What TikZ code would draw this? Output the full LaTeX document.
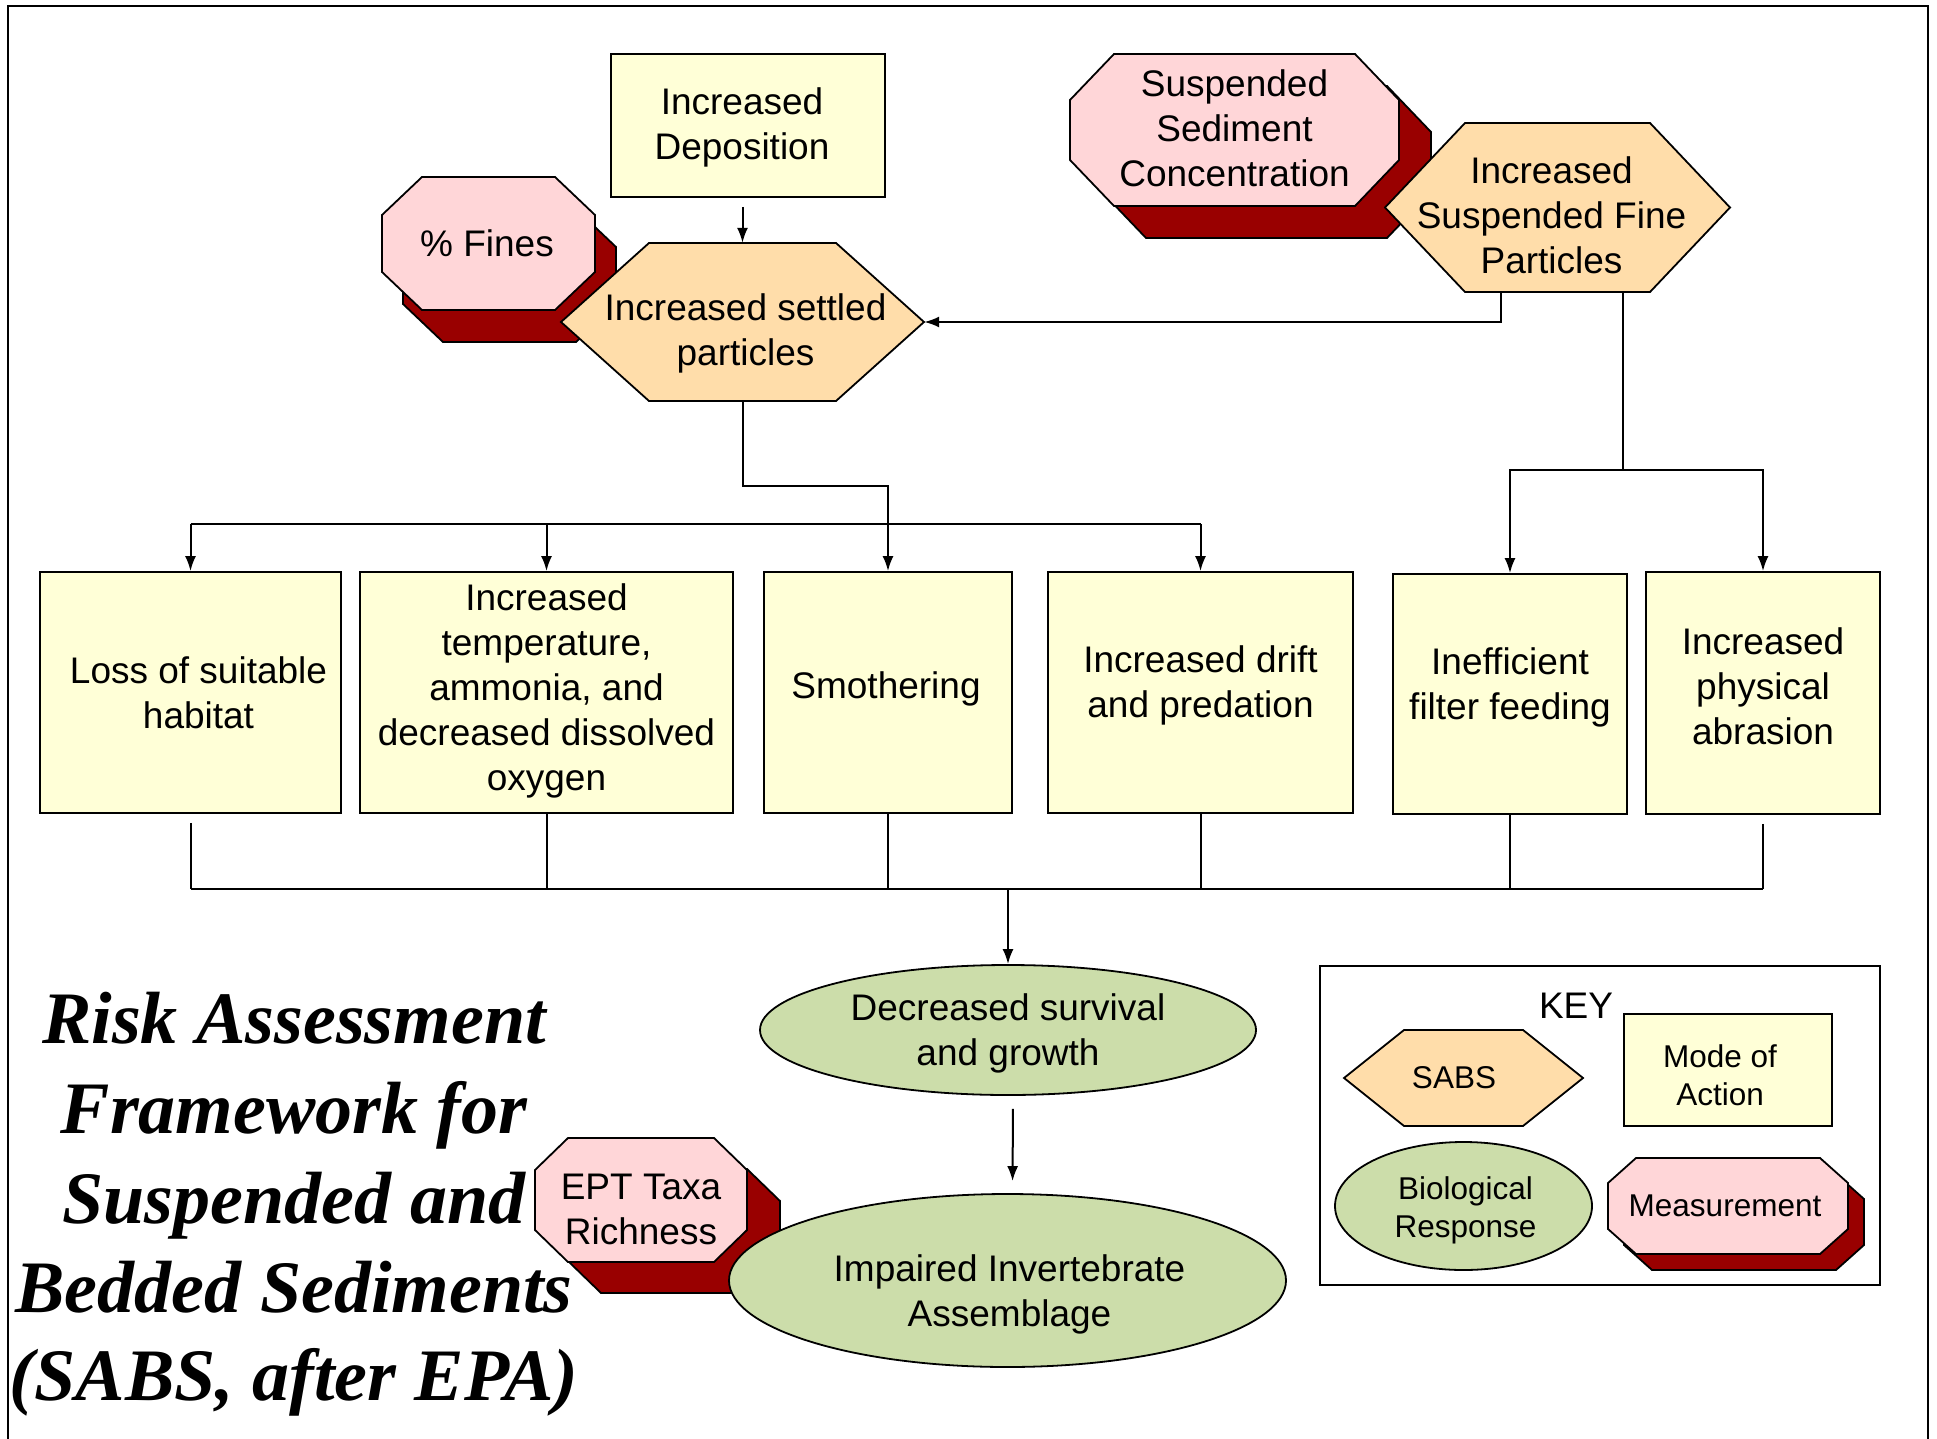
\documentclass[tikz,border=0pt]{standalone}
\usepackage{fontspec}
\setmainfont{Liberation Sans}
\newfontfamily\titlefont{Liberation Serif}
\usetikzlibrary{arrows.meta,shapes.geometric,calc}

\definecolor{modefill}{RGB}{255,255,215}
\definecolor{sabsfill}{RGB}{255,221,170}
\definecolor{measfill}{RGB}{255,214,216}
\definecolor{shadowred}{RGB}{153,0,0}
\definecolor{biofill}{RGB}{204,221,170}

\newcommand\mainsize{\fontsize{37}{45}\selectfont}
\newcommand\keysize{\fontsize{31.5}{38}\selectfont}
\newcommand\titlesize{\titlefont\bfseries\itshape\fontsize{74}{89}\selectfont}

% octagon: style, centre x, centre y, half width, half height, chamfer x, chamfer y
\newcommand\octpath[7]{%
  \path[#1, shift={(#2,#3)}] (-#4,-#5+#7) -- (-#4+#6,-#5) -- (#4-#6,-#5) -- (#4,-#5+#7)
    -- (#4,#5-#7) -- (#4-#6,#5) -- (-#4+#6,#5) -- (-#4,#5-#7) -- cycle;}
% hexagon pointing left and right: style, centre x, centre y, half width, half height, point depth
\newcommand\hexpath[6]{%
  \path[#1, shift={(#2,#3)}] (-#4,0) -- (-#4+#6,-#5) -- (#4-#6,-#5) -- (#4,0)
    -- (#4-#6,#5) -- (-#4+#6,#5) -- cycle;}

\tikzset{
  conn/.style={draw=black, line width=2pt},
  arr/.style={conn, -{Latex[length=15pt,width=11pt]}},
  modebox/.style={rectangle, draw=black, line width=1.8pt, fill=modefill,
    align=center, inner sep=0pt, font=\mainsize},
  lbl/.style={rectangle, align=center, inner sep=0pt, font=\mainsize},
  % text set inside a node, nudged away from the node centre
  inside/.style n args={3}{label={[lbl, xshift=#1, yshift=#2]center:{#3}}},
  sabsshape/.style={fill=sabsfill, draw=black, line width=1.8pt, line join=miter},
  measshape/.style={fill=measfill, draw=black, line width=1.8pt, line join=miter},
  shadowshape/.style={fill=shadowred, draw=black, line width=1.8pt, line join=miter},
  bioshape/.style={ellipse, fill=biofill, draw=black, line width=1.8pt,
    align=center, inner sep=0pt, font=\mainsize},
  titleline/.style={anchor=base, inner sep=0pt, font=\titlesize},
}

\begin{document}
\begin{tikzpicture}[x=1pt,y=-1pt]
\useasboundingbox (0,0) rectangle (1937,1439);

% outer frame, open at the bottom
\draw[line width=2.5pt] (8,1439) -- (8,6) -- (1928,6) -- (1928,1439);

% ---- top: stressors and measurements
\node[modebox, minimum width=274pt, minimum height=143pt,
  inside={-6pt}{-2pt}{Increased\\Deposition}] (dep) at (748,125.5) {};

\octpath{shadowshape}{509.5}{275.5}{106.5}{66.5}{40}{38}
\octpath{measshape}{488.5}{243.5}{106.5}{66.5}{40}{38}
\node[lbl, minimum width=213pt, minimum height=133pt] (fines) at (487,243.5) {\% Fines};

\hexpath{sabsshape}{742.5}{322}{181.5}{79}{88}
\node[lbl, minimum width=363pt, minimum height=158pt,
  inside={3pt}{-11pt}{Increased settled\\particles}] (settled) at (742.5,322) {};

\octpath{shadowshape}{1266.5}{162}{164.5}{76}{44}{46}
\octpath{measshape}{1234.5}{130}{164.5}{76}{44}{46}
\node[lbl, minimum width=329pt, minimum height=152pt] (ssc) at (1234.5,128) {Suspended\\Sediment\\Concentration};

\hexpath{sabsshape}{1557.5}{207.5}{172.5}{84.5}{80}
\node[lbl, minimum width=345pt, minimum height=169pt,
  inside={-6pt}{-8pt}{Increased\\Suspended Fine\\Particles}] (isfp) at (1557.5,207.5) {};

% ---- modes of action
\node[modebox, minimum width=301pt, minimum height=241pt,
  inside={8pt}{0pt}{Loss of suitable\\habitat}] (loss) at (190.5,692.5) {};
\node[modebox, minimum width=373pt, minimum height=241pt,
  inside={0pt}{2pt}{Increased\\temperature,\\ammonia, and\\decreased dissolved\\oxygen}] (temp) at (546.5,692.5) {};
\node[modebox, minimum width=248pt, minimum height=241pt,
  inside={-2pt}{4pt}{Smothering}] (smoth) at (888,692.5) {};
\node[modebox, minimum width=305pt, minimum height=241pt,
  inside={0pt}{7pt}{Increased drift\\and predation}] (drift) at (1200.5,692.5) {};
\node[modebox, minimum width=234pt, minimum height=240pt,
  inside={0pt}{7pt}{Inefficient\\filter feeding}] (filter) at (1510,694) {};
\node[modebox, minimum width=234pt, minimum height=242pt,
  inside={0pt}{7pt}{Increased\\physical\\abrasion}] (abr) at (1763,693) {};

% ---- biological responses
\node[bioshape, minimum width=496pt, minimum height=130pt,
  inside={0pt}{-3pt}{Decreased survival\\and growth}] (dec) at (1008,1030) {};

\octpath{shadowshape}{674}{1231}{106}{62}{33}{32}
\octpath{measshape}{641}{1200}{106}{62}{33}{32}
\node[lbl, minimum width=212pt, minimum height=124pt,
  inside={0pt}{-9pt}{EPT Taxa\\Richness}] (ept) at (641,1200) {};

\node[bioshape, minimum width=557pt, minimum height=173pt,
  inside={2pt}{-14pt}{Impaired Invertebrate\\Assemblage}] (imp) at (1007.5,1280.5) {};

% ---- connectors
\draw[arr, shorten <=9pt] (dep.south -| settled.north) -- (settled.north);
\draw[arr] ([xshift=-56.5pt]isfp.south) |- (settled.east);

\coordinate (split) at (1623,470);
\draw[conn] ([xshift=65.5pt]isfp.south) -- (split);
\draw[arr] (split) -| (filter.north);
\draw[arr] (split) -| (abr.north);

\coordinate (elbow) at (888,486);
\draw[arr] (settled.south) |- (elbow) -- (smoth.north);

\coordinate (busL) at (190.5,524);
\coordinate (busR) at (1200.5,524);
\draw[conn] (busL) -- (busR);
\draw[arr] (busL) -- (loss.north);
\draw[arr] (temp.north |- busL) -- (temp.north);
\draw[arr] (busR) -- (drift.north);

\coordinate (sumL) at (190.5,889);
\coordinate (sumR) at (1763,889);
\coordinate (sum) at (1008,889);
\draw[conn] (sumL) -- (sumR);
\draw[conn, shorten <=9pt] (loss.south) -- (sumL);
\draw[conn] (temp.south) -- (temp.south |- sum);
\draw[conn] (smoth.south) -- (smoth.south |- sum);
\draw[conn] (drift.south) -- (drift.south |- sum);
\draw[conn] (filter.south) -- (filter.south |- sum);
\draw[conn, shorten <=9pt] (abr.south) -- (sumR);
\draw[arr] (sum) -- (dec.north);
\draw[arr, shorten <=13pt, shorten >=12pt] ([xshift=5pt]dec.south) -- ([xshift=5pt]imp.north);

% ---- key
\node[draw=black, line width=2pt, minimum width=560pt, minimum height=319pt, inner sep=0pt] (keybox) at (1600,1125.5) {};
\node[anchor=base, font=\mainsize, inner sep=0pt] (keytitle) at (1576,1018) {KEY};
\hexpath{sabsshape}{1463.5}{1078}{119.5}{48}{60}
\node[lbl, font=\keysize] (keysabs) at (1454,1078) {SABS};
\node[modebox, minimum width=208pt, minimum height=112pt,
  label={[lbl, font=\keysize, xshift=-8pt, yshift=-5pt]center:{Mode of\\Action}}] (keymode) at (1728,1070) {};
\node[bioshape, minimum width=257pt, minimum height=128pt,
  label={[lbl, font=\keysize, xshift=2pt, yshift=-4pt]center:{Biological\\Response}}] (keybio) at (1463.5,1206) {};
\octpath{shadowshape}{1744}{1222}{120}{48}{28}{25}
\octpath{measshape}{1728}{1206}{120}{48}{28}{25}
\node[lbl, font=\keysize] (keymeas) at (1725,1206) {Measurement};

% ---- title
\node[titleline] (t1) at (294,1043) {Risk Assessment};
\node[titleline] (t2) at (294,1133) {Framework for};
\node[titleline] (t3) at (294,1223) {Suspended and};
\node[titleline] (t4) at (294,1312) {Bedded Sediments};
\node[titleline] (t5) at (294,1400) {(SABS, after EPA)};
\end{tikzpicture}
\end{document}
